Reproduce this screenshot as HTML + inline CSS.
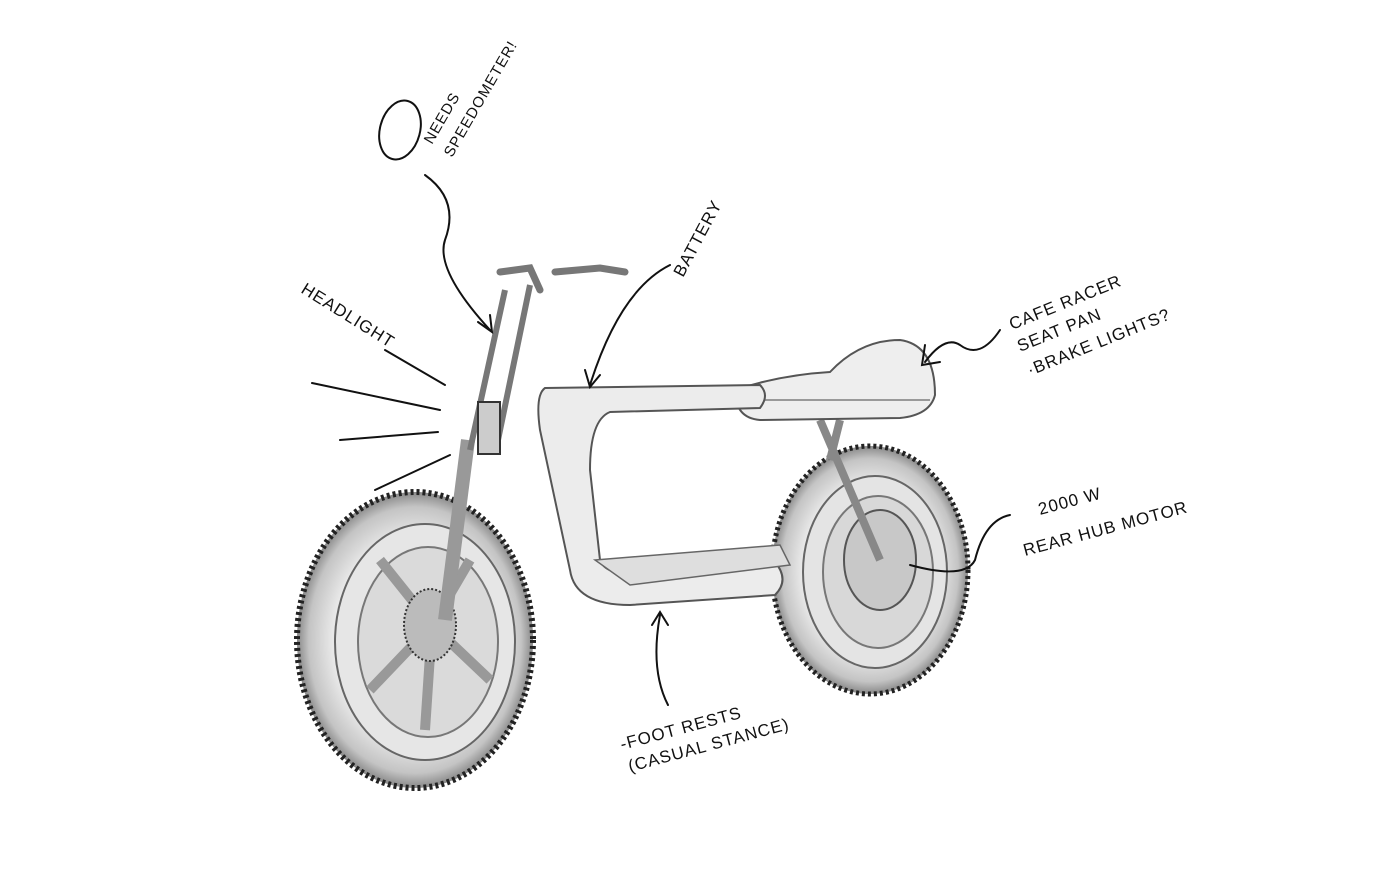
<!DOCTYPE html>
<html><head><meta charset="utf-8"><style>
html,body{margin:0;padding:0;background:#fff;}
svg{display:block}
text{font-family:"Liberation Sans",sans-serif;fill:#111;font-size:17px;letter-spacing:1px}
</style></head><body>
<svg width="1400" height="888" viewBox="0 0 1400 888" xmlns="http://www.w3.org/2000/svg">
<defs>
<radialGradient id="tire" cx="50%" cy="50%" r="50%">
<stop offset="70%" stop-color="#e8e8e8"/><stop offset="90%" stop-color="#c4c4c4"/><stop offset="100%" stop-color="#888"/>
</radialGradient>
</defs>
<!-- rear wheel -->
<ellipse cx="870" cy="570" rx="98" ry="124" fill="url(#tire)" stroke="#222" stroke-width="5" stroke-dasharray="3 3"/>
<ellipse cx="875" cy="572" rx="72" ry="96" fill="#e4e4e4" stroke="#666" stroke-width="2"/>
<ellipse cx="878" cy="572" rx="55" ry="76" fill="#d8d8d8" stroke="#777" stroke-width="2"/>
<ellipse cx="880" cy="560" rx="36" ry="50" fill="#c8c8c8" stroke="#555" stroke-width="2"/>
<!-- rear frame struts -->
<path d="M820 420 L880 560 M840 420 L830 460" stroke="#888" stroke-width="8" fill="none"/>
<!-- seat -->
<path d="M735 390 Q780 375 830 372 Q860 340 900 340 Q935 345 935 395 Q930 415 900 418 L760 420 Q735 418 735 390 Z" fill="#eee" stroke="#555" stroke-width="2"/>
<path d="M740 400 L930 400" stroke="#999" stroke-width="2"/>
<!-- main frame -->
<path d="M545 388 L760 385 Q770 395 760 408 L610 412 Q590 420 590 470 L600 560 Q605 575 640 575 L775 562 Q790 580 775 595 L630 605 Q575 605 570 570 L540 430 Q535 395 545 388 Z" fill="#ececec" stroke="#555" stroke-width="2"/>
<path d="M595 560 L780 545 L790 565 L630 585 Z" fill="#dedede" stroke="#666" stroke-width="1.5"/>
<!-- front wheel -->
<ellipse cx="415" cy="640" rx="118" ry="148" fill="url(#tire)" stroke="#222" stroke-width="6" stroke-dasharray="3 3"/>
<ellipse cx="425" cy="642" rx="90" ry="118" fill="#e6e6e6" stroke="#666" stroke-width="2"/>
<ellipse cx="428" cy="642" rx="70" ry="95" fill="#dadada" stroke="#777" stroke-width="2"/>
<g stroke="#999" stroke-width="10" fill="none">
<path d="M432 625 L380 560 M432 625 L470 560 M432 625 L490 680 M432 625 L425 730 M432 625 L370 690"/>
</g>
<ellipse cx="430" cy="625" rx="26" ry="36" fill="#bbb" stroke="#333" stroke-width="2" stroke-dasharray="2 2"/>
<!-- fork -->
<path d="M468 440 L445 620" stroke="#999" stroke-width="14" fill="none"/>
<path d="M505 290 L470 450 M530 285 L498 440" stroke="#777" stroke-width="6" fill="none"/>
<rect x="478" y="402" width="22" height="52" fill="#ccc" stroke="#333" stroke-width="2"/>
<!-- handlebars -->
<path d="M500 272 L530 268 L540 290 M555 272 L600 268 L625 272" stroke="#777" stroke-width="7" fill="none" stroke-linecap="round"/>
<!-- annotations -->
<g stroke="#111" stroke-width="2" fill="none" stroke-linecap="round">
<ellipse cx="400" cy="130" rx="20" ry="30" transform="rotate(15 400 130)"/>
<path d="M425 175 Q460 200 445 240 Q435 270 490 330 M478 322 L492 332 L490 315"/>
<path d="M670 265 Q620 290 590 385 M585 370 L590 387 L600 375"/>
<path d="M385 350 L445 385 M312 383 L440 410 M340 440 L438 432 M375 490 L450 455"/>
<path d="M1000 330 Q980 360 960 345 Q945 335 925 362 M925 345 L922 365 L940 362"/>
<path d="M1010 515 Q985 520 975 560 Q965 580 910 565"/>
<path d="M668 705 Q650 670 660 615 M652 625 L660 612 L668 625"/>
</g>
<text transform="translate(432,145) rotate(-60)" style="font-size:15px">NEEDS</text>
<text transform="translate(452,158) rotate(-60)" style="font-size:15px">SPEEDOMETER!</text>
<text transform="translate(683,278) rotate(-62)">BATTERY</text>
<text transform="translate(300,292) rotate(32)">HEADLIGHT</text>
<text transform="translate(1012,330) rotate(-22)">CAFE RACER</text>
<text transform="translate(1020,352) rotate(-22)">SEAT PAN</text>
<text transform="translate(1030,376) rotate(-22)">·BRAKE LIGHTS?</text>
<text transform="translate(1040,515) rotate(-15)">2000 W</text>
<text transform="translate(1025,556) rotate(-15)">REAR HUB MOTOR</text>
<text transform="translate(622,750) rotate(-15)">-FOOT RESTS</text>
<text transform="translate(630,772) rotate(-15)">(CASUAL STANCE)</text>
</svg>
</body></html>
